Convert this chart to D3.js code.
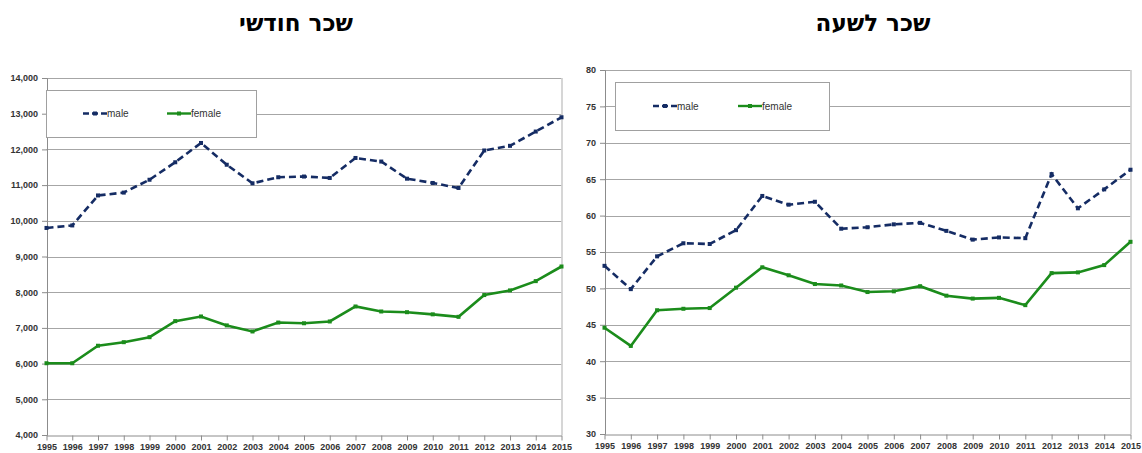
<!DOCTYPE html>
<html><head><meta charset="utf-8">
<script src="https://cdn.jsdelivr.net/npm/d3@7"></script>
<style>body{margin:0;background:#fff}svg{display:block}</style>
</head><body>
<svg id="c" width="1142" height="453"></svg>
<script>
const years = [1995,1996,1997,1998,1999,2000,2001,2002,2003,2004,2005,2006,2007,2008,2009,2010,2011,2012,2013,2014,2015];
const monthlyMale   = [9800,9870,10710,10790,11150,11640,12180,11570,11050,11220,11240,11200,11760,11660,11180,11060,10920,11970,12100,12500,12900];
const monthlyFemale = [6010,6010,6500,6600,6740,7190,7320,7070,6900,7150,7130,7180,7600,7460,7440,7380,7310,7920,8050,8310,8720];
const hourlyMale    = [53.1,49.9,54.4,56.2,56.1,58.0,62.7,61.5,61.9,58.2,58.4,58.8,59.0,57.9,56.7,57.0,56.9,65.7,61.0,63.6,66.3];
const hourlyFemale  = [44.6,42.1,47.0,47.2,47.3,50.1,52.9,51.8,50.6,50.4,49.5,49.6,50.3,49.0,48.6,48.7,47.7,52.1,52.2,53.2,56.4];
const monthlyTicks = [4000,5000,6000,7000,8000,9000,10000,11000,12000,13000,14000];
const hourlyTicks  = [30,35,40,45,50,55,60,65,70,75,80];
const titles = ["שכר חודשי","שכר לשעה"];
const seriesNames = ["male","female"];
const colors = {male:"#152c64", female:"#1b8c1b"};

const svg = d3.select("#c");
const fontTick = "Liberation Sans, Arial, sans-serif";

function panel(cfg){
  const g = svg.append("g");
  const x = d3.scalePoint().domain(years).range([cfg.x0, cfg.x1]);
  const y = d3.scaleLinear().domain(cfg.domain).range([cfg.y1, cfg.y0]);
  g.append("g").selectAll("line").data(cfg.ticks.slice(1)).join("line")
    .attr("x1", cfg.x0).attr("x2", cfg.x1)
    .attr("y1", d=>Math.round(y(d))+0.5).attr("y2", d=>Math.round(y(d))+0.5)
    .attr("stroke", "#a6a6a6").attr("stroke-width", 1);
  g.append("line").attr("x1", cfg.x1+0.5).attr("x2", cfg.x1+0.5).attr("y1", cfg.y0).attr("y2", cfg.y1)
    .attr("stroke", "#c8c8c8").attr("stroke-width", 1.5);
  const ya = g.append("g").attr("transform", `translate(${cfg.x0+0.5},0)`)
    .call(d3.axisLeft(y).tickValues(cfg.ticks).tickSize(5).tickPadding(4).tickFormat(cfg.fmt));
  ya.select(".domain").attr("stroke", "#8c8c8c");
  ya.selectAll(".tick line").attr("stroke", "#8c8c8c");
  ya.selectAll("text").attr("font-family", fontTick).attr("font-size", "9px").attr("font-weight", "bold").attr("fill", "#333");
  const xa = g.append("g").attr("transform", `translate(0,${cfg.y1+0.5})`)
    .call(d3.axisBottom(x).tickSize(5).tickPadding(3).tickSizeOuter(0));
  xa.select(".domain").attr("stroke", "#8c8c8c");
  xa.selectAll(".tick line").attr("stroke", "#8c8c8c");
  xa.selectAll("text").attr("font-family", fontTick).attr("font-size", "9px").attr("font-weight", "bold").attr("fill", "#333");

  const line = d3.line().x((d,i)=>x(years[i])).y(d=>y(d));
  g.append("path").attr("d", line(cfg.female)).attr("fill","none").attr("stroke", colors.female).attr("stroke-width", 2.6);
  g.append("g").selectAll("rect").data(cfg.female).join("rect")
    .attr("x",(d,i)=>x(years[i])-2).attr("y",d=>y(d)-2).attr("width",4).attr("height",4).attr("fill", colors.female);
  g.append("path").attr("d", line(cfg.male)).attr("fill","none").attr("stroke", colors.male).attr("stroke-width", 2.6)
    .attr("stroke-dasharray","7,4");
  g.append("g").selectAll("rect").data(cfg.male).join("rect")
    .attr("x",(d,i)=>x(years[i])-2).attr("y",d=>y(d)-2).attr("width",4).attr("height",4).attr("fill", colors.male);

  const lg = g.append("g");
  lg.append("rect").attr("x", cfg.lx+0.5).attr("y", cfg.ly+0.5).attr("width", cfg.lw).attr("height", cfg.lh)
    .attr("fill","#fff").attr("stroke","#a0a0a0").attr("stroke-width",1);
  const cy = cfg.ly + cfg.lh/2;
  const items = [{n:seriesNames[0], x:cfg.lm, dash:"6,3"},{n:seriesNames[1], x:cfg.lf, dash:null}];
  items.forEach(it=>{
    lg.append("line").attr("x1", it.x).attr("x2", it.x+24).attr("y1", cy).attr("y2", cy)
      .attr("stroke", colors[it.n]).attr("stroke-width", 2.4).attr("stroke-dasharray", it.dash);
    lg.append("rect").attr("x", it.x+10).attr("y", cy-2).attr("width",4).attr("height",4).attr("fill", colors[it.n]);
    lg.append("text").attr("x", it.x+24).attr("y", cy+3.5).text(it.n)
      .attr("font-family", fontTick).attr("font-size","10px").attr("fill","#333");
  });
  g.append("text").attr("x", cfg.tx).attr("y", 31).attr("text-anchor","middle").attr("direction","rtl")
    .attr("font-family","DejaVu Sans, Arial, sans-serif").attr("font-weight","bold").attr("font-size","23px").attr("fill","#000")
    .text(cfg.title);
}

panel({x0:46.5, x1:561.5, y0:78, y1:435, domain:[4000,14000], ticks:monthlyTicks, fmt:d3.format(","),
  male:monthlyMale, female:monthlyFemale, lx:46, ly:90, lw:210, lh:47, lm:83, lf:167, tx:296, title:titles[0]});
panel({x0:604.5, x1:1130.5, y0:70, y1:434, domain:[30,80], ticks:hourlyTicks, fmt:d3.format("d"),
  male:hourlyMale, female:hourlyFemale, lx:615, ly:82, lw:214, lh:48, lm:653, lf:738, tx:873, title:titles[1]});
</script>
</body></html>
